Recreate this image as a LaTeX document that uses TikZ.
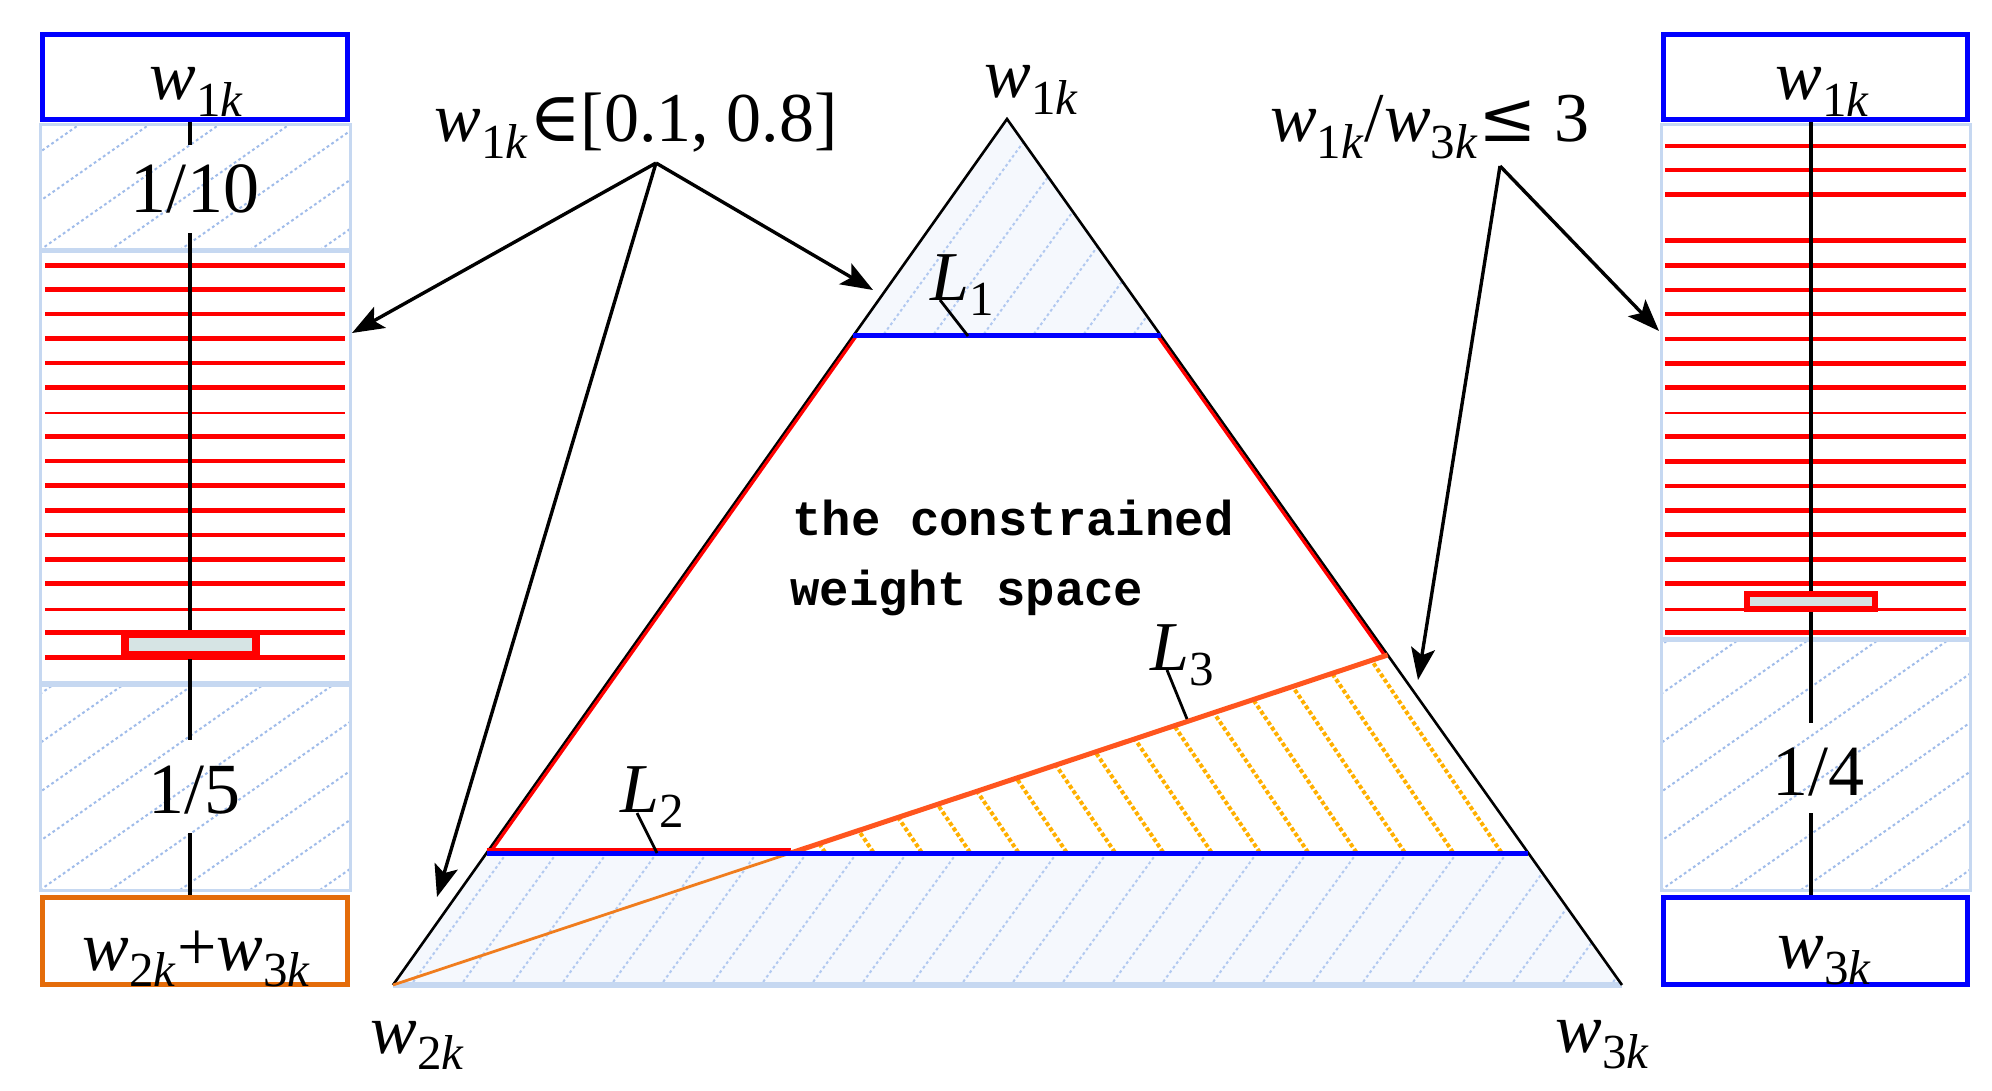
\documentclass[tikz,border=0pt]{standalone}
\usepackage{fontspec}
\setmainfont{Liberation Serif}
\newfontfamily\monof{Liberation Mono}
\newfontfamily\symf{DejaVu Serif}
\usetikzlibrary{arrows.meta,calc}
\definecolor{bblue}{RGB}{0,0,255}
\definecolor{lblue}{RGB}{198,216,241}
\definecolor{hblue}{RGB}{160,188,234}
\definecolor{thblue}{RGB}{178,201,240}
\definecolor{tfillc}{RGB}{245,248,253}
\definecolor{rred}{RGB}{255,0,0}
\definecolor{boxorange}{RGB}{228,108,10}
\definecolor{lthree}{RGB}{255,85,30}
\definecolor{lthreelow}{RGB}{240,125,30}
\definecolor{hyellow}{RGB}{255,176,0}
\definecolor{slidefill}{RGB}{214,228,228}
\newcommand{\wsub}[1]{\textit{w}\textsubscript{#1\textit{k}}}
\newcommand{\boxhatch}[4]{%
  \begin{scope}
    \clip (#1,#2) rectangle (#3,#4);
    \foreach \kk in {0,...,12}
      \draw[bhatch] ({#1-420+70*\kk},#4) -- ++(700,-490);
  \end{scope}}
\begin{document}
\begin{tikzpicture}[x=0.5pt,y=-0.5pt,
  txt/.style={font=\fontsize{35}{40}\selectfont, inner sep=0pt},
  numtxt/.style={font=\fontsize{36}{40}\selectfont, inner sep=0pt},
  mono/.style={font={\monof\fontsize{24.5}{30}\selectfont\bfseries}, inner sep=0pt},
  bluebox/.style={draw=bblue, line width=2.5pt, minimum width=152.5pt, minimum height=42.5pt, inner sep=0pt},
  orangebox/.style={draw=boxorange, line width=2.5pt, minimum width=152.5pt, minimum height=43.5pt, inner sep=0pt},
  lbbox/.style={draw=lblue, line width=1.5pt},
  bhatch/.style={draw=hblue, line width=1pt, dash pattern=on 1.4pt off 1.4pt},
  thatch/.style={draw=thblue, line width=1pt, dash pattern=on 1.4pt off 1.4pt},
  ohatch/.style={draw=hyellow, line width=2pt, dash pattern=on 2pt off 1.2pt},
  redline/.style={draw=rred, line width=2.3pt},
  thinred/.style={draw=rred, line width=1.4pt},
  slider/.style={draw=rred, fill=slidefill, inner sep=0pt},
  axis/.style={draw=black, line width=1.8pt},
  arr/.style={draw=black, line width=1.7pt, -{Stealth[length=16pt,width=12pt,inset=3.5pt]}},
  leader/.style={draw=black, line width=1.4pt},
]
\useasboundingbox (0,0) rectangle (1992,1091);
\fill[white] (0,0) rectangle (1992,1091);

% ---------------- left column ----------------
\boxhatch{40}{125}{350}{250}
\draw[lbbox] (40,125) rectangle (350,250);
\draw[lbbox] (40,252) rectangle (350,682);
\foreach \yy in {265.7,289.7,314,338.7,363,387.7,436.7,461,485.7,510.3,535,559.3,583.7,632.3,657.3}
  \draw[redline] (45,\yy) -- (345,\yy);
\foreach \yy in {413,609.3}
  \draw[thinred] (45,\yy) -- (345,\yy);
\boxhatch{40}{685}{350}{890}
\draw[lbbox] (40,685) rectangle (350,890);

\node[bluebox] (lw1box) at (195,77) {};
\node[txt, anchor=base] (lw1) at (197,100) {\wsub{1}};
\node[numtxt, text height=34pt, text depth=10pt, anchor=base] (l110) at (195,213) {1/10};
\node[numtxt, text height=36.5pt, text depth=10pt, anchor=base] (l15) at (194,813) {1/5};
\node[orangebox] (lw23box) at (195,941) {};
\node[txt, anchor=base] (lw23) at (197,970) {\wsub{2}+\wsub{3}};
\node[slider, line width=4pt, minimum width=65.5pt, minimum height=10.5pt] (lsl) at (190,644.5) {};

\draw[axis] (lsl.north |- lw1box.south) -- (lsl.north |- l110.north);
\draw[axis] (lsl.north |- l110.south) -- (lsl.north);
\draw[axis] (lsl.south) -- (lsl.south |- l15.north);
\draw[axis] (lsl.south |- l15.south) -- (lsl.south |- lw23box.north);

% ---------------- right column ----------------
\draw[lbbox] (1661,125) rectangle (1970,638);
\foreach \yy in {146,170,194.3,240.7,265.7,290,314,339,363.3,387.7,436.7,461.3,486,510.3,534.7,559.3,583.7,632.3}
  \draw[redline] (1665,\yy) -- (1966,\yy);
\foreach \yy in {413,609.3}
  \draw[thinred] (1665,\yy) -- (1966,\yy);
\boxhatch{1661}{640}{1970}{890}
\draw[lbbox] (1661,640) rectangle (1970,890);

\node[bluebox, minimum width=152pt] (rw1box) at (1815.5,77) {};
\node[txt, anchor=base] (rw1) at (1823,100) {\wsub{1}};
\node[numtxt, text height=36pt, text depth=9pt, anchor=base] (l14) at (1818,795) {1/4};
\node[bluebox, minimum width=152pt, minimum height=43.5pt] (rw3box) at (1815.5,941) {};
\node[txt, anchor=base] (rw3) at (1825,968) {\wsub{3}};
\node[slider, line width=3pt, minimum width=64pt, minimum height=7.5pt] (rsl) at (1811,601.5) {};

\draw[axis] (rsl.north |- rw1box.south) -- (rsl.north);
\draw[axis] (rsl.south) -- (rsl.south |- l14.north);
\draw[axis] (rsl.south |- l14.south) -- (rsl.south |- rw3box.north);

% ---------------- triangle ----------------
\coordinate (A) at (1007,119);
\coordinate (B) at (393,985);
\coordinate (C) at (1622,985);
\coordinate (P1) at (853,336);
\coordinate (P2) at (1161,336);
\coordinate (Q1) at (486.6,853);
\coordinate (Q2) at (1528.3,853);
\coordinate (R) at (1387.6,655);
\coordinate (S) at (790.8,853);

\begin{scope}
  \clip (A) -- (P1) -- (P2) -- cycle;
  \fill[tfillc] (A) -- (P1) -- (P2) -- cycle;
  \foreach \x in {0,50,...,1700} \draw[thatch] (\x,1000) -- ++(800,-1101);
\end{scope}
\begin{scope}
  \clip (Q1) -- (Q2) -- (C) -- (B) -- cycle;
  \fill[tfillc] (Q1) -- (Q2) -- (C) -- (B) -- cycle;
  \foreach \x in {0,50,...,1700} \draw[thatch] (\x,1000) -- ++(800,-1101);
\end{scope}
\begin{scope}
  \clip (S) -- (R) -- (Q2) -- cycle;
  \foreach \kk in {-7,...,11} \draw[ohatch] ({1067+48.3*\kk+150},1075) -- ++(-400,-592);
\end{scope}

\draw[lblue, line width=3pt] (B) -- (C);
\draw[black, line width=1.3pt] (B) -- (A) -- (C);
\draw[rred, line width=1.6pt] ([xshift=1.6pt]P1) -- ([xshift=1.6pt]Q1);
\draw[rred, line width=1.6pt] ([xshift=-1.6pt]P2) -- ([xshift=-1.6pt]R);
\draw[rred, line width=1.3pt] ([yshift=1.8pt]Q1) -- ([yshift=1.8pt]S);
\draw[lthreelow, line width=1.4pt] (B) -- (S);
\draw[lthree, line width=2.5pt] (S) -- (R);
\draw[bblue, line width=2.5pt] (P1) -- (P2);
\draw[bblue, line width=2.5pt] (Q1) -- (Q2);

% L labels and leaders
\node[txt, anchor=base west] (ll1) at (930,300) {\textit{L}\textsubscript{1}};
\node[txt, anchor=base west] (ll2) at (620,812) {\textit{L}\textsubscript{2}};
\node[txt, anchor=base west] (ll3) at (1150,670) {\textit{L}\textsubscript{3}};
\coordinate (ld1a) at (940,300);  \coordinate (ld1b) at (968,336);
\coordinate (ld2a) at (637,813);  \coordinate (ld2b) at (657,853);
\coordinate (ld3a) at (1167,670); \coordinate (ld3b) at (1187,719);
\draw[leader] (ld1a) -- (ld1b);
\draw[leader] (ld2a) -- (ld2b);
\draw[leader] (ld3a) -- (ld3b);

% text inside
\node[mono, anchor=base west] (tcs1) at (792,535) {the constrained};
\node[mono, anchor=base west] (tcs2) at (790,605) {weight space};

% vertex labels
\node[txt, anchor=base] (apexlab) at (1032,98) {\wsub{1}};
\node[txt, anchor=base] (blab) at (418,1053) {\wsub{2}};
\node[txt, anchor=base] (clab) at (1603,1052) {\wsub{3}};

% constraint labels and arrows
\node[txt, anchor=base] (lab1) at (636,142) {\wsub{1}{\symf ∈}[0.1, 0.8]};
\node[txt, anchor=base] (lab2) at (1430,142) {\wsub{1}/\wsub{3}{\symf ≤}\ 3};
\coordinate (o1) at (656,163);
\coordinate (t1) at (352,333);
\coordinate (t2) at (437,897);
\coordinate (t3) at (873,290);
\coordinate (o2) at (1500,166);
\coordinate (t4) at (1659,331);
\coordinate (t5) at (1418,680);
\draw[arr] (o1) -- (t1);
\draw[arr] (o1) -- (t2);
\draw[arr] (o1) -- (t3);
\draw[arr] (o2) -- (t4);
\draw[arr] (o2) -- (t5);
\end{tikzpicture}
\end{document}
